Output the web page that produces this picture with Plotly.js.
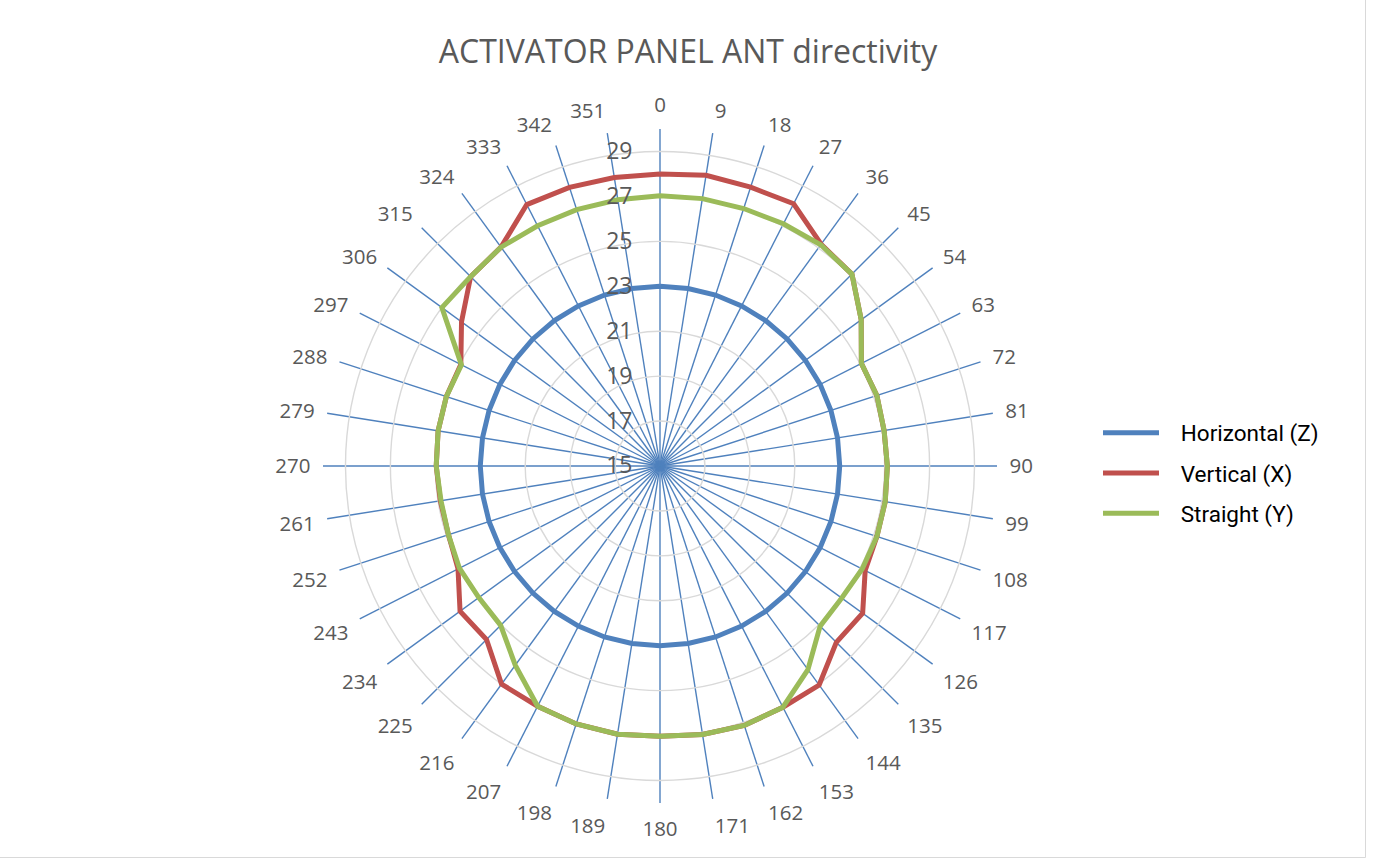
<!DOCTYPE html>
<html>
<head>
<meta charset="utf-8">
<script src="https://cdn.plot.ly/plotly-3.0.1.min.js"></script>
<style>
  html, body { margin: 0; padding: 0; background: #ffffff; }
  #chart { width: 1375px; height: 862px; }
</style>
</head>
<body>
<div id="chart"></div>
<script>
// Measurement angles (degrees), used as the angular categories
const angles = ['0', '9', '18', '27', '36', '45', '54', '63', '72', '81',
                '90', '99', '108', '117', '126', '135', '144', '153', '162', '171',
                '180', '189', '198', '207', '216', '225', '234', '243', '252', '261',
                '270', '279', '288', '297', '306', '315', '324', '333', '342', '351'];

// Horizontal (Z) polarisation
const horizontalZ = [23, 23, 23, 23, 23, 23, 23, 23, 23, 23,
                     23, 23, 23, 23, 23, 23, 23, 23, 23, 23,
                     23, 23, 23, 23, 23, 23, 23, 23, 23, 23,
                     23, 23, 23, 23, 23, 23, 23, 23, 23, 23];

// Vertical (X) polarisation
const verticalX = [28.0, 28.1, 28.05, 28.1, 27.2, 27.08, 26.07, 25.06, 25.15, 25.1,
                   25.12, 25.15, 25.15, 25.25, 26.15, 26.1, 27.05, 27.05, 27.14, 27.1,
                   27.03, 27.09, 27.07, 27.0, 27.0, 25.92, 26.0, 25.09, 24.9, 24.9,
                   24.96, 25.0, 25.0, 24.95, 25.92, 26.92, 27.04, 28.06, 28.04, 28.0];

// Straight (Y) polarisation
const straightY = [27.03, 27.05, 27.05, 27.1, 27.17, 27.08, 26.07, 25.06, 25.15, 25.1,
                   25.12, 25.15, 25.15, 25.1, 25.0, 25.08, 26.2, 27.05, 27.14, 27.1,
                   27.03, 27.09, 27.07, 27.0, 25.96, 25.03, 24.97, 25.02, 24.9, 24.87,
                   24.96, 25.0, 25.0, 24.92, 27.0, 26.92, 27.04, 27.0, 27.0, 27.0];

const seriesNames = ['Horizontal (Z)', 'Vertical (X)', 'Straight (Y)'];
const seriesColors = ['#4F81BD', '#C0504D', '#9BBB59'];
const seriesValues = [horizontalZ, verticalX, straightY];

const W = 1375, H = 862;
const angleFont = { family: 'Open Sans, sans-serif', size: 20.5, color: '#595959' };
const radialFont = { family: 'Open Sans, sans-serif', size: 23, color: '#595959' };

// close each loop by repeating the first angle
const closed = arr => arr.concat([arr[0]]);
// extra room between the legend swatch and its text
const legendPad = '\u00A0\u00A0\u00A0';

const traces = seriesValues.map((vals, i) => ({
  type: 'scatterpolar',
  mode: 'lines',
  name: legendPad + seriesNames[i],
  legendgroup: 'g' + i,
  theta: closed(angles),
  r: closed(vals),
  line: { color: seriesColors[i], width: 5 },
  hoverinfo: 'skip'
}));

const cx = 660, cy = 466, R = 337;

const layout = {
  width: W,
  height: H,
  margin: { l: 0, r: 0, t: 0, b: 0 },
  paper_bgcolor: '#ffffff',
  plot_bgcolor: '#ffffff',
  title: {
    text: 'ACTIVATOR PANEL ANT directivity',
    font: { family: 'Open Sans, sans-serif', size: 32, color: '#595959' },
    x: 688 / W,
    xanchor: 'center',
    y: 1 - 52 / H,
    yanchor: 'middle',
    yref: 'paper'
  },
  polar: {
    domain: {
      x: [(cx - R) / W, (cx + R) / W],
      y: [1 - (cy + R) / H, 1 - (cy - R) / H]
    },
    bgcolor: '#ffffff',
    angularaxis: {
      type: 'category',
      categoryarray: angles,
      direction: 'clockwise',
      rotation: 90,
      showline: false,
      ticks: 'outside',
      ticklen: 8,
      tickcolor: 'rgba(0,0,0,0)',
      showgrid: true,
      gridcolor: '#4F81BD',
      gridwidth: 1.4,
      tickfont: angleFont
    },
    radialaxis: {
      range: [15, 30],
      tick0: 15,
      dtick: 2,
      angle: 90,
      side: 'counterclockwise',
      tickangle: 90,
      showline: false,
      ticks: 'outside',
      ticklen: 19,
      tickcolor: 'rgba(0,0,0,0)',
      showgrid: true,
      gridcolor: '#D9D9D9',
      gridwidth: 1.4,
      tickfont: radialFont
    }
  },
  showlegend: true,
  legend: {
    x: 1098 / W,
    xanchor: 'left',
    y: 1 - 473 / H,
    yanchor: 'middle',
    font: { family: 'Roboto, sans-serif', size: 22.5, color: '#000000' },
    bgcolor: 'rgba(0,0,0,0)',
    tracegroupgap: 8,
    itemwidth: 56
  },
  shapes: [{
    type: 'rect',
    xref: 'paper', yref: 'paper',
    x0: -0.01, x1: 1365.5 / W,
    y0: 1 - 857.5 / H, y1: 1.01,
    line: { color: '#D9D9D9', width: 1 },
    fillcolor: 'rgba(0,0,0,0)'
  }]
};

Plotly.newPlot('chart', traces, layout, { displayModeBar: false, staticPlot: true });
</script>
</body>
</html>
